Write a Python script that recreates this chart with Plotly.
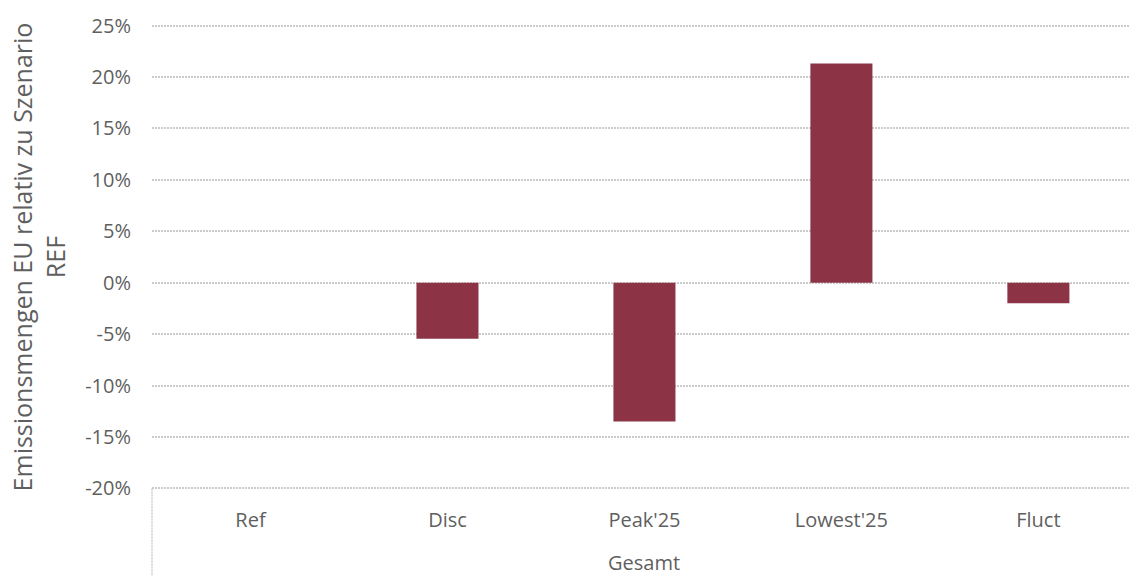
import plotly.graph_objects as go

# Scenario comparison: EU emissions relative to the REF scenario
categories = ["Ref", "Disc", "Peak'25", "Lowest'25", "Fluct"]
values = [0.0, -0.0545, -0.135, 0.213, -0.020]
group_label = "Gesamt"
y_ticks = [-0.20, -0.15, -0.10, -0.05, 0.0, 0.05, 0.10, 0.15, 0.20, 0.25]
y_tick_text = ["-20%", "-15%", "-10%", "-5%", "0%", "5%", "10%", "15%", "20%", "25%"]

BAR = "#8c3446"
GRID = "#cccccc"
TEXT = "#5f5f5f"
FONT = "Open Sans"

fig = go.Figure(
    go.Bar(
        x=categories,
        y=values,
        marker=dict(color=BAR, line=dict(width=0)),
        width=0.315,
    )
)

fig.update_layout(
    width=1129,
    height=576,
    margin=dict(l=152, r=0, t=24, b=86),
    paper_bgcolor="white",
    plot_bgcolor="white",
    showlegend=False,
    font=dict(family=FONT, color=TEXT, size=20),
)

X_RANGE = [-0.5, 4.46]

fig.update_xaxes(
    type="category",
    range=X_RANGE,
    showgrid=False,
    showline=False,
    zeroline=False,
    ticks="",
    ticklabelstandoff=16,
    tickfont=dict(family=FONT, size=20, color=TEXT),
)

# small padding so the outer gridlines (-20% and 25%) stay visible
fig.update_yaxes(
    range=[-0.2015, 0.2515],
    tickvals=y_ticks,
    ticktext=y_tick_text,
    showgrid=True,
    gridcolor=GRID,
    gridwidth=1.5,
    griddash="2px,1px",
    zeroline=False,
    showline=False,
    ticks="",
    ticklabelstandoff=20,
    tickfont=dict(family=FONT, size=20, color=TEXT),
    title=dict(
        text="Emissionsmengen EU relativ zu Szenario<br>REF",
        font=dict(family=FONT, size=25, color=TEXT),
        standoff=12,
    ),
)

# group label centred under the whole category block
fig.add_annotation(
    text=group_label,
    xref="paper", yref="paper",
    x=(len(categories) / 2) / (X_RANGE[1] - X_RANGE[0]),
    y=-0.156,
    xanchor="center", yanchor="middle",
    showarrow=False,
    font=dict(family=FONT, size=20, color=TEXT),
)

# left divider of the category group, below the axis
fig.add_shape(
    type="line",
    xref="paper", yref="paper",
    x0=0, x1=0, y0=0.003, y1=-0.19,
    line=dict(color=GRID, width=1.5, dash="2px,1px"),
)

fig.write_html("out.html")
